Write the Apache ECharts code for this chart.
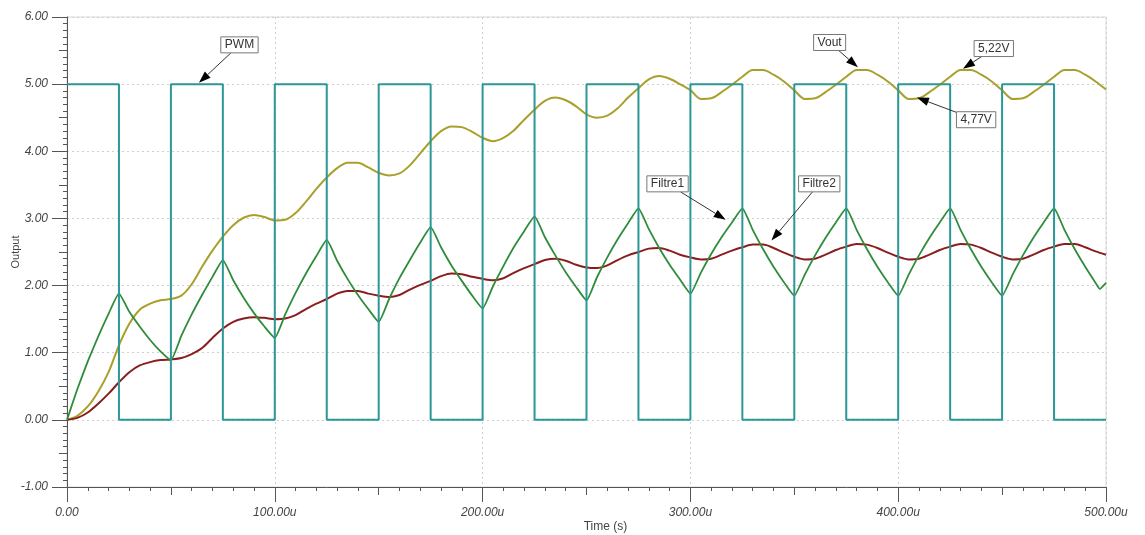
<!DOCTYPE html>
<html>
<head>
<meta charset="utf-8">
<script src="https://cdn.jsdelivr.net/npm/echarts@6/dist/echarts.min.js"></script>
<style>
html,body{margin:0;padding:0;background:#fff;}
#chart{width:1145px;height:535px;}
</style>
</head>
<body>
<div id="chart"></div>
<script>
// ---- Data (times in microseconds, values in volts) ----
const xTickLabels = ['0.00', '100.00u', '200.00u', '300.00u', '400.00u', '500.00u'];
const yTickLabels = ['-1.00', '0.00', '1.00', '2.00', '3.00', '4.00', '5.00', '6.00'];

// PWM edges: level holds from this time until the next edge
const pwmTimes = [0, 25, 50, 75, 100, 125, 150, 175, 200, 225, 250, 275, 300, 325, 350, 375, 400, 425, 450, 475, 500];
const pwmLevels = [5, 0, 5, 0, 5, 0, 5, 0, 5, 0, 5, 0, 5, 0, 5, 0, 5, 0, 5, 0, 0];

const timeGrid = [0,5,10,15,20,25,30,35,40,45,50,55,60,65,70,75,80,85,90,95,
  100,105,110,115,120,125,130,135,140,145,150,155,160,165,170,175,180,185,190,195,
  200,205,210,215,220,225,230,235,240,245,250,255,260,265,270,275,280,285,290,295,
  300,305,310,315,320,325,330,335,340,345,350,355,360,365,370,375,380,385,390,395,
  400,405,410,415,420,425,430,435,440,445,450,455,460,465,470,475,480,485,490,495,500];

const voutValues = [0,0.06,0.20,0.42,0.71,1.11,1.43,1.64,1.73,1.78,
  1.80,1.85,2.02,2.28,2.52,2.73,2.90,3.01,3.05,3.02,
  2.97,2.98,3.08,3.25,3.44,3.61,3.75,3.83,3.83,3.76,
  3.68,3.64,3.67,3.79,3.97,4.15,4.30,4.37,4.36,4.29,
  4.20,4.15,4.20,4.31,4.47,4.62,4.75,4.80,4.76,4.67,
  4.55,4.50,4.53,4.64,4.80,4.94,5.07,5.12,5.08,5.00,
  4.91,4.78,4.79,4.88,4.99,5.11,5.21,5.21,5.14,5.04,
  4.91,4.78,4.79,4.88,4.99,5.11,5.21,5.21,5.14,5.04,
  4.91,4.78,4.79,4.88,4.99,5.11,5.21,5.21,5.14,5.04,
  4.91,4.78,4.79,4.88,4.99,5.11,5.21,5.21,5.14,5.04,
  4.92];

const filtre2Values = [0,0.03,0.11,0.24,0.39,0.56,0.71,0.81,0.86,0.89,
  0.90,0.92,0.98,1.07,1.22,1.36,1.46,1.51,1.53,1.52,
  1.50,1.51,1.56,1.65,1.73,1.80,1.88,1.92,1.92,1.88,
  1.85,1.83,1.86,1.94,2.01,2.07,2.14,2.18,2.17,2.13,
  2.10,2.08,2.11,2.19,2.26,2.32,2.38,2.40,2.37,2.31,
  2.27,2.26,2.30,2.38,2.45,2.50,2.55,2.56,2.52,2.46,
  2.42,2.39,2.40,2.46,2.52,2.57,2.61,2.61,2.56,2.49,
  2.43,2.39,2.40,2.46,2.53,2.58,2.62,2.61,2.56,2.49,
  2.43,2.39,2.40,2.46,2.53,2.58,2.62,2.61,2.56,2.49,
  2.43,2.39,2.40,2.46,2.53,2.58,2.62,2.62,2.57,2.51,
  2.46];

const filtre1Times = [0,5,10,15,20,25,30,35,40,45,50,55,60,65,70,75,80,85,90,95,
  100,105,110,115,120,125,130,135,140,145,150,155,160,165,170,175,180,185,190,195,
  200,205,210,215,220,225,230,235,240,245,250,255,260,265,270,275,280,285,290,295,
  300,305,310,315,320,325,330,335,340,345,350,355,360,365,370,375,380,385,390,395,
  400,405,410,415,420,425,430,435,440,445,450,455,460,465,470,475,480,485,490,495,497,500];
const filtre1Values = [0,0.46,0.87,1.24,1.58,1.88,1.61,1.39,1.19,1.02,
  0.89,1.25,1.57,1.86,2.13,2.38,2.08,1.82,1.59,1.39,
  1.22,1.57,1.89,2.18,2.44,2.68,2.37,2.10,1.86,1.65,
  1.46,1.80,2.11,2.38,2.64,2.87,2.57,2.30,2.07,1.85,
  1.66,1.99,2.29,2.57,2.81,3.03,2.72,2.45,2.20,1.98,
  1.78,2.12,2.42,2.69,2.93,3.15,2.84,2.56,2.31,2.09,
  1.88,2.19,2.47,2.72,2.94,3.15,2.83,2.54,2.28,2.05,
  1.85,2.16,2.45,2.71,2.94,3.15,2.83,2.54,2.28,2.05,
  1.85,2.16,2.45,2.71,2.94,3.15,2.83,2.54,2.28,2.05,
  1.85,2.16,2.45,2.71,2.94,3.15,2.83,2.54,2.28,2.04,1.95,2.04];

// Annotations: label text, box centre [t, v], arrow tip [t, v]
const annotations = [
  {text: 'PWM',    box: [83, 5.585],  tip: [63.5, 5.02]},
  {text: 'Vout',   box: [367, 5.62],  tip: [380.6, 5.25]},
  {text: '5,22V',  box: [446, 5.53],  tip: [431.2, 5.23]},
  {text: '4,77V',  box: [437.5, 4.47], tip: [409, 4.80]},
  {text: 'Filtre1', box: [289, 3.515], tip: [317, 2.98]},
  {text: 'Filtre2', box: [362, 3.515], tip: [339, 2.67]}
];

const zip = (xs, ys) => xs.map((x, i) => [x, ys[i]]);

const FONT = 'Liberation Sans, Arial, sans-serif';
const AXIS_COLOR = '#555';
const chart = echarts.init(document.getElementById('chart'), null, {renderer: 'canvas'});

const option = {
  backgroundColor: '#fff',
  animation: false,
  grid: {left: 67, right: 39, top: 17, bottom: 48, show: true, borderColor: '#d8d8d8', borderWidth: 1,
    containLabel: false, outerBoundsMode: 'none'},
  xAxis: [
    {
      type: 'value', min: 0, max: 500, interval: 100, position: 'bottom',
      name: 'Time (s)', nameLocation: 'middle', nameGap: 34, nameMoveOverlap: false,
      nameTextStyle: {fontFamily: FONT, fontSize: 12, color: '#444', padding: [0, 0, 0, 38]},
      axisLine: {show: true, onZero: false, lineStyle: {color: AXIS_COLOR, width: 1}},
      axisTick: {show: true, length: 15, lineStyle: {color: AXIS_COLOR}},
      minorTick: {show: true, splitNumber: 10, length: 4, lineStyle: {color: AXIS_COLOR}},
      axisLabel: {margin: 20, fontFamily: FONT, fontStyle: 'italic', fontSize: 12, color: '#444',
        formatter: v => xTickLabels[Math.round(v / 100)]},
      splitLine: {show: true, lineStyle: {color: '#cfcfcf', type: [2, 3], width: 1}}
    },
    {
      type: 'value', min: 0, max: 500, interval: 50, position: 'bottom', offset: 0,
      axisLine: {show: false, onZero: false},
      axisTick: {show: true, length: 8, lineStyle: {color: AXIS_COLOR}},
      axisLabel: {show: false},
      splitLine: {show: false}
    }
  ],
  yAxis: [
    {
      type: 'value', min: -1, max: 6, interval: 1, position: 'left',
      name: 'Output', nameLocation: 'middle', nameGap: 46, nameMoveOverlap: false,
      nameTextStyle: {fontFamily: FONT, fontSize: 11, color: '#444'},
      axisLine: {show: true, onZero: false, lineStyle: {color: AXIS_COLOR, width: 1}},
      axisTick: {show: true, length: 15, lineStyle: {color: AXIS_COLOR}},
      minorTick: {show: true, splitNumber: 10, length: 4, lineStyle: {color: AXIS_COLOR}},
      axisLabel: {margin: 19, fontFamily: FONT, fontStyle: 'italic', fontSize: 12, color: '#444',
        formatter: v => yTickLabels[Math.round(v + 1)]},
      splitLine: {show: true, lineStyle: {color: '#cfcfcf', type: [2, 3], width: 1}}
    },
    {
      type: 'value', min: -1, max: 6, interval: 0.5, position: 'left', offset: 0,
      axisLine: {show: false, onZero: false},
      axisTick: {show: true, length: 8, lineStyle: {color: AXIS_COLOR}},
      axisLabel: {show: false},
      splitLine: {show: false}
    }
  ],
  series: [
    {
      name: 'Vout', type: 'line', xAxisIndex: 0, yAxisIndex: 0, showSymbol: false, smooth: 0.3,
      data: zip(timeGrid, voutValues), lineStyle: {color: '#A9A02C', width: 2}, z: 2
    },
    {
      name: 'Filtre2', type: 'line', xAxisIndex: 0, yAxisIndex: 0, showSymbol: false, smooth: 0.3,
      data: zip(timeGrid, filtre2Values), lineStyle: {color: '#8A1E1E', width: 2}, z: 2
    },
    {
      name: 'Filtre1', type: 'line', xAxisIndex: 0, yAxisIndex: 0, showSymbol: false, smooth: 0.15,
      data: zip(filtre1Times, filtre1Values), lineStyle: {color: '#2F8C3A', width: 1.8}, z: 3
    },
    {
      name: 'PWM', type: 'line', xAxisIndex: 0, yAxisIndex: 0, showSymbol: false, step: 'end',
      data: zip(pwmTimes, pwmLevels), lineStyle: {color: '#2C9797', width: 2}, z: 4
    }
  ]
};
chart.setOption(option);

// ---- annotation boxes with arrows, placed through the axes' scales ----
const measure = (() => {
  const c = document.createElement('canvas').getContext('2d');
  c.font = '12px ' + FONT;
  return t => c.measureText(t).width;
})();
const graphics = [];
annotations.forEach(a => {
  const C = chart.convertToPixel({xAxisIndex: 0, yAxisIndex: 0}, a.box);
  const P = chart.convertToPixel({xAxisIndex: 0, yAxisIndex: 0}, a.tip);
  const w = measure(a.text) + 8, h = 16;
  const dx = P[0] - C[0], dy = P[1] - C[1];
  const len = Math.hypot(dx, dy);
  const ux = dx / len, uy = dy / len;
  const s = Math.min((w / 2) / Math.max(Math.abs(ux), 1e-6), (h / 2) / Math.max(Math.abs(uy), 1e-6));
  const S = [C[0] + ux * s, C[1] + uy * s];
  const aL = 12, aW = 4.2;
  const B = [P[0] - ux * aL, P[1] - uy * aL];
  const nx = -uy, ny = ux;
  graphics.push({
    type: 'line', z: 100,
    shape: {x1: S[0], y1: S[1], x2: B[0], y2: B[1]},
    style: {stroke: '#333', lineWidth: 1}
  });
  graphics.push({
    type: 'polygon', z: 101,
    shape: {points: [[P[0], P[1]], [B[0] + nx * aW, B[1] + ny * aW], [B[0] - nx * aW, B[1] - ny * aW]]},
    style: {fill: '#000'}
  });
  graphics.push({
    type: 'rect', z: 102,
    shape: {x: C[0] - w / 2, y: C[1] - h / 2, width: w, height: h},
    style: {fill: '#fff', stroke: '#777', lineWidth: 1}
  });
  graphics.push({
    type: 'text', z: 103, x: C[0], y: C[1],
    style: {text: a.text, font: '12px ' + FONT, fill: '#333', align: 'center', verticalAlign: 'middle'}
  });
});
chart.setOption({graphic: graphics});
</script>
</body>
</html>
